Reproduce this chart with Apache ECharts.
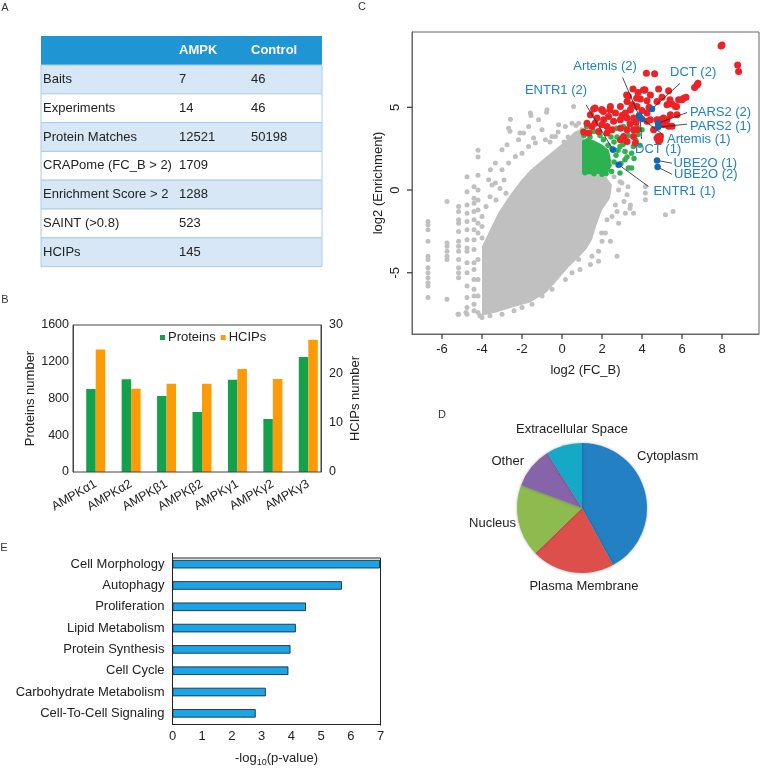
<!DOCTYPE html>
<html>
<head>
<meta charset="utf-8">
<title>AMPK interactome</title>
<script src="https://cdn.jsdelivr.net/npm/echarts@6/dist/echarts.min.js"></script>
<style>
  html, body { margin: 0; padding: 0; background: #fff; }
  #main { width: 760px; height: 768px; }
</style>
</head>
<body>
<div id="main"></div>
<script>
// ---- A: summary table ----
var tableHeader = ['', 'AMPK', 'Control'];
var tableRows = [
  ['Baits', '7', '46'],
  ['Experiments', '14', '46'],
  ['Protein Matches', '12521', '50198'],
  ['CRAPome (FC_B > 2)', '1709', ''],
  ['Enrichment Score > 2', '1288', ''],
  ['SAINT (>0.8)', '523', ''],
  ['HCIPs', '145', '']
];

// ---- B: proteins / HCIPs per bait ----
var baitNames = ['AMPKα1', 'AMPKα2', 'AMPKβ1', 'AMPKβ2', 'AMPKγ1', 'AMPKγ2', 'AMPKγ3'];
var proteinCounts = [903, 1010, 827, 653, 1005, 577, 1252];
var hcipCounts = [25, 17, 18, 18, 21, 19, 27];

// ---- C: log2(FC_B) vs log2(Enrichment) ----
// outline of the solid grey cloud
var grayCloudOutline = [
  [-4.0, -7.6], [-4.0, -3.4], [-3.6, -2.4], [-3.2, -1.4], [-2.6, -0.3], [-2.1, 0.5],
  [-1.6, 1.2], [-1.0, 1.8], [-0.4, 2.4], [0.2, 3.0], [0.6, 3.5], [1.0, 3.7],
  [1.3, 2.0], [1.6, 1.0], [2.2, 0.8], [2.5, 0.3], [2.4, -0.5], [2.0, -1.2],
  [1.7, -2.2], [1.5, -3.0], [1.2, -3.6], [0.8, -4.1], [0.3, -4.7], [-0.2, -5.4],
  [-0.8, -6.2], [-1.6, -6.8], [-2.5, -7.1], [-3.3, -7.4]
];
var grayPoints = [
  [-6.7, -1.9], [-6.7, -2.1], [-6.7, -2.4], [-6.7, -3.1], [-6.7, -4.0], [-6.7, -4.2],
  [-6.7, -4.7], [-6.7, -5.0], [-6.7, -5.3], [-6.7, -5.6], [-6.7, -5.8], [-6.7, -6.5],
  [-5.75, -0.7], [-5.75, -3.2], [-5.75, -3.4], [-5.75, -3.7], [-5.75, -4.0], [-5.75, -4.2], [-5.75, -6.6],
  [-5.17, -1.0], [-5.17, -1.3], [-5.17, -1.8], [-5.17, -2.0], [-5.17, -2.5], [-5.17, -3.1],
  [-5.17, -3.4], [-5.17, -3.7], [-5.17, -4.2], [-5.17, -4.7], [-5.17, -5.0], [-5.17, -5.3], [-5.17, -7.5],
  [-4.75, -0.1], [-4.75, -0.9], [-4.75, -1.4], [-4.75, -1.9], [-4.75, -2.4], [-4.75, -3.0],
  [-4.75, -3.5], [-4.75, -3.7], [-4.75, -4.4], [-4.75, -5.0], [-4.75, -5.8], [-4.75, -6.5],
  [-4.75, -7.1], [-4.75, -7.5],
  [-4.4, 0.2], [-4.4, -0.5], [-4.4, -0.8], [-4.4, -1.3], [-4.4, -1.8], [-4.4, -2.4],
  [-4.4, -3.0], [-4.4, -3.6], [-4.4, -4.4], [-4.4, -4.8], [-4.4, -5.4], [-4.4, -6.0],
  [-4.4, -6.4], [-4.4, -6.9], [-4.4, -7.3],
  [-4.2, 0.0], [-4.2, -0.6], [-4.2, -1.2], [-4.2, -2.0], [-4.2, -2.6], [-4.2, -4.2],
  [-4.2, -5.4], [-4.2, -6.4], [-4.2, -7.4],
  [-4.0, -7.7], [-4.0, -2.9], [-4.0, -2.2], [-4.0, -1.6], [-3.8, -1.0], [-3.6, -0.4],
  [-3.5, 0.3], [-3.3, -0.6], [-3.1, 0.1], [-2.9, 0.6], [-2.8, -0.2],
  [-4.75, 0.8], [-4.2, 2.4], [-4.2, 2.0], [-4.2, 0.9], [-3.58, 1.22], [-3.33, 1.63],
  [-3.0, 2.43], [-2.75, 2.73], [-2.67, 3.74], [-2.6, 3.55], [-2.17, 3.04], [-1.92, 3.44],
  [-1.67, 3.84], [-1.58, 4.65], [-1.42, 3.14], [-1.17, 4.24], [-1.0, 3.64], [-0.75, 4.85],
  [-0.5, 3.24], [-0.17, 3.94], [0.17, 3.84], [0.5, 4.04], [0.58, 5.05], [0.83, 4.04],
  [1.0, 3.64], [-2.58, 4.28], [-2.1, 3.45], [-1.55, 4.5], [-0.77, 4.7],
  [-3.0, 1.22], [-2.67, 1.63], [-2.33, 2.03], [-2.0, 2.23], [-1.67, 2.63], [-1.33, 2.84],
  [-0.83, 3.04], [-0.33, 3.24], [-3.33, 0.42], [-3.67, 0.62],
  [0.3, 3.2], [0.7, 3.9], [-0.2, 3.5], [0.1, 2.9], [-0.6, 2.9],
  [-5.2, -7.5], [-4.8, -7.4], [-4.1, -7.6], [-2.4, -7.3], [-2.0, -7.1], [-1.5, -6.9],
  [-1.0, -6.4], [0.17, -5.4], [0.9, -4.8], [0.83, -4.2], [-3.6, -7.6], [-3.0, -7.5],
  [-0.5, -6.0], [0.5, -5.0],
  [4.17, 0.22], [4.17, -0.18], [4.17, -0.58], [3.25, -0.28], [3.0, 0.42], [2.83, 0.0],
  [3.42, -0.9], [3.58, -1.4], [3.17, -1.4], [2.67, -0.9], [2.75, -1.3], [2.5, -1.6],
  [2.83, -2.0], [2.25, -1.8], [2.17, -2.6], [2.0, -3.1], [2.42, -3.1], [1.83, -3.7],
  [1.83, -4.3], [1.5, -4.0], [1.42, -4.5], [2.75, -4.0], [5.17, -1.5], [5.55, -1.3],
  [3.4, -1.1], [1.98, -2.6], [2.9, 0.5], [3.3, 0.2], [2.6, 0.8], [3.1, -0.7], [2.2, 0.95]
];
var greenCoreOutline = [
  [1.0, 0.95], [1.0, 3.0], [1.25, 3.15], [1.6, 3.0], [2.0, 2.75], [2.35, 2.4],
  [2.45, 1.8], [2.4, 1.2], [2.2, 0.95]
];
var greenPoints = [
  [1.23, 3.84], [1.57, 3.54], [2.07, 3.04], [2.23, 3.44], [2.73, 3.74], [3.07, 3.84],
  [3.4, 3.94], [2.9, 2.63], [3.15, 2.33], [3.48, 2.23], [3.32, 1.33], [3.48, 1.33],
  [2.9, 1.03], [2.48, 1.12], [3.57, 2.63], [3.15, 1.83], [2.75, 3.2], [3.0, 3.0],
  [2.6, 2.9], [3.3, 3.3], [3.7, 3.0], [2.5, 2.5], [2.7, 2.1], [2.95, 1.6],
  [2.6, 1.7], [2.35, 1.5], [2.2, 1.0], [1.1, 3.3], [1.4, 3.2], [1.9, 3.3],
  [2.45, 3.2], [3.9, 2.7], [3.6, 1.9], [2.3, 2.7], [2.8, 2.4], [1.15, 1.05],
  [1.6, 0.98], [2.0, 0.95], [3.05, 2.75], [3.8, 3.35], [3.25, 2.0], [4.0, 3.64], [3.75, 3.84]
];
var redPoints = [
  [8.0, 8.77], [7.95, 8.7], [8.78, 7.56], [8.83, 7.16], [4.22, 7.06], [4.63, 7.02],
  [4.12, 6.05], [4.42, 5.75], [4.83, 6.1], [5.33, 6.0], [5.83, 5.45], [6.08, 5.55],
  [6.75, 6.35], [6.63, 6.2], [6.8, 6.45], [3.92, 5.5], [4.25, 5.4], [4.75, 5.35],
  [3.25, 5.35], [3.5, 5.15], [3.75, 5.05], [5.25, 5.15], [5.67, 5.05], [2.92, 5.05],
  [3.17, 4.65], [3.42, 4.85], [5.75, 4.55], [5.42, 4.55], [5.25, 4.25], [4.25, 4.65],
  [4.42, 4.25], [4.25, 4.15], [4.75, 4.25], [5.08, 3.95], [5.33, 3.85], [5.5, 3.85],
  [4.58, 3.64], [4.75, 3.14], [4.92, 3.24], [4.83, 2.94], [1.58, 4.9], [2.0, 4.85],
  [2.42, 5.05], [2.67, 4.65], [2.33, 4.45], [1.42, 4.55], [1.75, 4.35], [2.08, 4.25],
  [2.58, 4.15], [2.92, 4.25], [3.25, 4.35], [3.58, 4.35], [1.25, 4.04], [1.5, 3.84],
  [2.0, 3.94], [2.25, 3.84], [2.5, 3.64], [2.92, 3.74], [3.25, 3.64], [3.58, 3.64],
  [1.33, 3.44], [1.83, 3.54], [2.25, 3.44], [3.08, 3.24], [3.58, 3.24], [3.75, 3.64],
  [2.92, 3.04], [3.25, 2.94], [3.67, 2.84], [1.08, 3.5], [1.65, 4.04], [2.07, 4.75],
  [3.23, 5.75], [3.73, 5.55], [4.15, 6.05], [3.32, 5.65], [4.07, 6.05], [5.4, 5.45],
  [6.0, 5.45], [5.73, 5.05], [4.9, 4.24], [5.07, 4.35], [4.82, 3.24], [4.9, 3.04],
  [1.65, 4.95], [1.98, 4.85], [2.4, 4.85], [3.0, 4.5], [3.4, 4.0], [3.7, 4.1],
  [4.0, 4.8], [4.35, 5.0], [5.0, 5.6], [5.5, 5.2], [6.2, 5.6], [3.55, 6.1], [3.8, 5.9]
];
var highlightNames = ['Artemis (2)', 'DCT (2)', 'ENTR1 (2)', 'PARS2 (2)', 'PARS2 (1)',
  'Artemis (1)', 'DCT (1)', 'UBE2O (1)', 'UBE2O (2)', 'ENTR1 (1)'];
var highlightPoints = [
  [3.85, 4.5], [4.5, 4.9], [2.55, 2.43], [4.8, 4.04], [4.8, 3.8],
  [4.0, 4.3], [3.9, 4.4], [4.75, 1.79], [4.78, 1.39], [2.83, 1.53]
];
// callout layout in data units: leader-line end x/y, text x/y, text align
var calloutLayout = [
  [3.03, 6.8, 2.15, 7.44, 'center'],
  [5.9, 6.45, 5.4, 7.1, 'left'],
  [1.2, 5.15, -0.3, 6.0, 'center'],
  [6.25, 4.68, 6.4, 4.68, 'left'],
  [6.25, 3.98, 6.4, 3.84, 'left'],
  [5.07, 3.34, 5.25, 3.08, 'left'],
  [3.98, 3.08, 3.65, 2.43, 'left'],
  [5.5, 1.62, 5.58, 1.59, 'left'],
  [5.5, 0.95, 5.6, 0.92, 'left'],
  [4.32, 0.22, 4.57, -0.08, 'left']
];
var scatterXTicks = [-6, -4, -2, 0, 2, 4, 6, 8];
var scatterYTicks = [-5, 0, 5];
var scatterXRange = [-7.5, 9.85];
var scatterYRange = [-8.7, 9.55];

// ---- D: subcellular location of HCIPs ----
var locationNames = ['Cytoplasm', 'Plasma Membrane', 'Nucleus', 'Other', 'Extracellular Space'];
var locationCounts = [61, 30, 26, 15, 13];
var pieLabelPos = [[637, 456, 'left'], [584, 586, 'center'], [516, 523, 'right'],
  [524, 461, 'right'], [572, 429, 'center']];

// ---- E: enriched functions ----
var functionNames = ['Cell Morphology', 'Autophagy', 'Proliferation', 'Lipid Metabolism',
  'Protein Synthesis', 'Cell Cycle', 'Carbohydrate Metabolism', 'Cell-To-Cell Signaling'];
var functionScores = [6.98, 5.70, 4.49, 4.15, 3.97, 3.90, 3.14, 2.80];

var FONT = '"Liberation Sans", Arial, Helvetica, sans-serif';
var TXT = '#222';

function tableGraphic() {
  var left = 41, width = 281, top = 36, headH = 29, rowH = 28.8;
  var colX = [43, 179, 251];
  var els = [{
    type: 'rect', shape: {x: left, y: top, width: width, height: headH},
    style: {fill: '#1f95d3'}
  }];
  tableHeader.forEach(function (t, c) {
    if (!t) return;
    els.push({type: 'text', x: colX[c], y: top + headH / 2,
      style: {text: t, fill: '#fff', font: 'bold 13px ' + FONT, verticalAlign: 'middle'}});
  });
  tableRows.forEach(function (row, r) {
    var y = top + headH + r * rowH;
    els.push({type: 'rect', shape: {x: left, y: y, width: width, height: rowH},
      style: {fill: r % 2 ? '#ffffff' : '#d7e7f5', stroke: '#a8cdec', lineWidth: 1}});
    row.forEach(function (t, c) {
      els.push({type: 'text', x: colX[c], y: y + rowH / 2,
        style: {text: t, fill: TXT, font: '13px ' + FONT, verticalAlign: 'middle'}});
    });
  });
  return els;
}

function panelLetter(t, x, y) {
  return {type: 'text', x: x, y: y,
    style: {text: t, fill: '#333', font: '11px ' + FONT, align: 'center', verticalAlign: 'middle'}};
}

function blobSeries(outline, color, z) {
  return {
    type: 'custom', xAxisIndex: 1, yAxisIndex: 2, z: z, silent: true,
    data: [outline[0]],
    renderItem: function (params, api) {
      return {
        type: 'polygon',
        shape: {points: outline.map(function (p) { return api.coord(p); })},
        style: {fill: color}
      };
    }
  };
}

function pointSeries(points, color, size, z) {
  return {
    type: 'scatter', xAxisIndex: 1, yAxisIndex: 2, z: z, silent: true,
    symbolSize: size, itemStyle: {color: color, opacity: 1},
    data: points
  };
}

// outward R-style tick marks on the scatter's bottom and left edges
function tickSeries(data, dx, dy) {
  return {
    type: 'custom', xAxisIndex: 1, yAxisIndex: 2, z: 20, zlevel: 1, silent: true, clip: false,
    data: data,
    renderItem: function (params, api) {
      var p = api.coord([api.value(0), api.value(1)]);
      return {type: 'line', shape: {x1: p[0], y1: p[1], x2: p[0] + dx, y2: p[1] + dy},
        style: {stroke: '#333', lineWidth: 1.2}};
    }
  };
}

var chart = echarts.init(document.getElementById('main'));

chart.setOption({
  animation: false,
  backgroundColor: '#fff',
  textStyle: {fontFamily: FONT, color: TXT},
  graphic: tableGraphic().concat([
    panelLetter('A', 5, 8),
    panelLetter('B', 5, 300),
    panelLetter('C', 362, 7),
    panelLetter('D', 442, 415),
    panelLetter('E', 4, 548),
    // frame of panel B
    {type: 'rect', shape: {x: 73, y: 325, width: 248, height: 147},
      style: {stroke: '#444', lineWidth: 1, fill: null}, z: 10},
    // frame of panel E
    {type: 'polyline', shape: {points: [[172.5, 558], [380.5, 558], [380.5, 725.5]]},
      style: {stroke: '#222', lineWidth: 1, fill: null}}
  ]),
  legend: {
    data: ['Proteins', 'HCIPs'],
    left: 160, top: 331, padding: 0,
    icon: 'rect', itemWidth: 5, itemHeight: 5, itemGap: 5,
    textStyle: {fontSize: 13, color: TXT, padding: [0, 0, 0, -2]}
  },
  grid: [
    {left: 78, top: 325, width: 248, height: 147},
    {left: 412, top: 32, width: 347, height: 302, show: true, borderColor: '#666', borderWidth: 1},
    {left: 172.5, top: 553.5, width: 208, height: 172}
  ],
  xAxis: [
    {
      gridIndex: 0, type: 'category', data: baitNames,
      axisLine: {show: false}, axisTick: {show: false},
      axisLabel: {rotate: 30, interval: 0, fontSize: 12.5, color: TXT, margin: 11}
    },
    {
      gridIndex: 1, type: 'value', min: scatterXRange[0], max: scatterXRange[1],
      axisLine: {show: true, onZero: false, lineStyle: {color: '#666'}}, splitLine: {show: false},
      axisTick: {show: false},
      axisLabel: {customValues: scatterXTicks, fontSize: 13, color: TXT, margin: 9},
      name: 'log2 (FC_B)', nameLocation: 'middle', nameGap: 30,
      nameTextStyle: {fontSize: 13, color: TXT}
    },
    {
      gridIndex: 2, type: 'value', min: 0, max: 7, interval: 1,
      axisLine: {show: true, lineStyle: {color: '#222'}}, axisTick: {show: false},
      splitLine: {show: false},
      axisLabel: {fontSize: 13, color: TXT, margin: 6},
      name: '-log{sub|10}(p-value)', nameLocation: 'middle', nameGap: 26,
      nameTextStyle: {fontSize: 13, color: TXT,
        rich: {sub: {fontSize: 9, color: TXT, padding: [8, 0, 0, 0]}}}
    }
  ],
  yAxis: [
    {
      gridIndex: 0, type: 'value', min: 0, max: 1600, interval: 400, offset: 5,
      axisLine: {show: true, lineStyle: {color: '#444'}}, axisTick: {show: false},
      splitLine: {show: false},
      axisLabel: {fontSize: 12.5, color: TXT, margin: 4,
        formatter: function (v) { return String(v); }},
      name: 'Proteins number', nameLocation: 'middle', nameGap: 36,
      nameTextStyle: {fontSize: 13, color: TXT}
    },
    {
      gridIndex: 0, type: 'value', min: 0, max: 30, interval: 10, position: 'right', offset: -5,
      axisLine: {show: true, lineStyle: {color: '#444'}}, axisTick: {show: false},
      splitLine: {show: false},
      axisLabel: {fontSize: 12.5, color: TXT, margin: 8},
      name: 'HCIPs number', nameLocation: 'middle', nameGap: 28, nameRotate: 90,
      nameTextStyle: {fontSize: 13, color: TXT}
    },
    {
      gridIndex: 1, type: 'value', min: scatterYRange[0], max: scatterYRange[1],
      axisLine: {show: true, onZero: false, lineStyle: {color: '#666'}}, splitLine: {show: false},
      axisTick: {show: false},
      axisLabel: {customValues: scatterYTicks, rotate: 90, fontSize: 13, color: TXT, margin: 10},
      name: 'log2 (Enrichment)', nameLocation: 'middle', nameGap: 27,
      nameTextStyle: {fontSize: 13, color: TXT}
    },
    {
      gridIndex: 2, type: 'category', data: functionNames, inverse: true,
      axisLine: {show: true, lineStyle: {color: '#222'}}, axisTick: {show: false},
      axisLabel: {fontSize: 13, color: TXT, margin: 8}
    }
  ],
  series: [
    {
      name: 'Proteins', type: 'bar', xAxisIndex: 0, yAxisIndex: 0,
      data: proteinCounts, barWidth: 9.5, barGap: '0%',
      itemStyle: {color: '#13a24b'}
    },
    {
      name: 'HCIPs', type: 'bar', xAxisIndex: 0, yAxisIndex: 1,
      data: hcipCounts, barWidth: 9.5, barGap: '0%',
      itemStyle: {color: '#fd9a08'}
    },
    blobSeries(grayCloudOutline, '#c0c0c0', 2),
    pointSeries(grayPoints, '#c0c0c0', 5, 3),
    blobSeries(greenCoreOutline, '#2cb34f', 4),
    pointSeries(greenPoints, '#2cb34f', 5.5, 5),
    pointSeries(redPoints, '#ec2227', 7, 6),
    {
      type: 'custom', xAxisIndex: 1, yAxisIndex: 2, z: 7, silent: true,
      data: highlightPoints.map(function (p, i) {
        var l = calloutLayout[i];
        return [p[0], p[1], l[0], l[1], l[2], l[3]];
      }),
      encode: {x: [0, 2, 4], y: [1, 3, 5]},
      renderItem: function (params, api) {
        var p = api.coord([api.value(0), api.value(1)]);
        var e = api.coord([api.value(2), api.value(3)]);
        var t = api.coord([api.value(4), api.value(5)]);
        return {
          type: 'group',
          children: [
            {type: 'line', shape: {x1: p[0], y1: p[1], x2: e[0], y2: e[1]},
              style: {stroke: '#222', lineWidth: 0.8}},
            {type: 'text', x: t[0], y: t[1],
              style: {text: highlightNames[params.dataIndex], fill: '#1f82c4',
                font: '13px ' + FONT, align: calloutLayout[params.dataIndex][4],
                verticalAlign: 'middle'}}
          ]
        };
      }
    },
    pointSeries(highlightPoints, '#1466b0', 6.5, 8),
    tickSeries(scatterXTicks.map(function (v) { return [v, scatterYRange[0]]; }), 0, 5),
    tickSeries(scatterYTicks.map(function (v) { return [scatterXRange[0], v]; }), -5, 0),
    {
      type: 'pie', center: [582, 508], radius: 65, startAngle: 90, clockwise: true,
      silent: true,
      data: locationNames.map(function (n, i) { return {name: n, value: locationCounts[i]}; }),
      color: ['#2380c2', '#dd4f4b', '#8ebb50', '#8664aa', '#16a8c7'],
      itemStyle: {shadowBlur: 3, shadowColor: 'rgba(0,0,0,0.3)'},
      label: {show: true, position: 'outside', fontSize: 13, color: TXT, overflow: 'none'},
      labelLine: {show: false},
      labelLayout: function (params) {
        var p = pieLabelPos[params.dataIndex];
        return {x: p[0], y: p[1], align: p[2], verticalAlign: 'middle', width: 160};
      }
    },
    {
      type: 'bar', xAxisIndex: 2, yAxisIndex: 3, data: functionScores, barWidth: 8.5,
      itemStyle: {color: '#19a5e8', borderColor: '#1b1b1b', borderWidth: 0.8}
    }
  ]
});
</script>
</body>
</html>
